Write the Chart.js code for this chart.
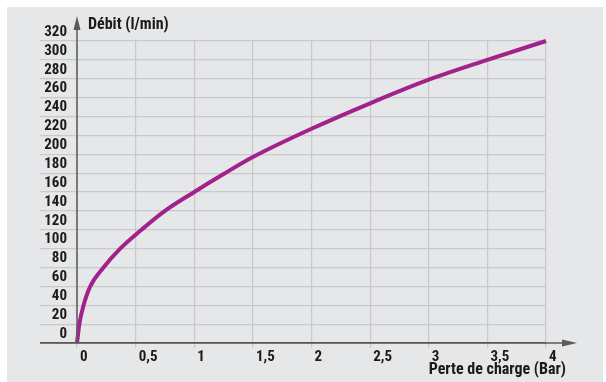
<!DOCTYPE html>
<html>
<head>
<meta charset="utf-8">
<script src="https://cdn.jsdelivr.net/npm/chart.js@4.4.1/dist/chart.umd.min.js"></script>
<style>
  body { margin: 0; background: #ffffff; }
  canvas { display: block; }
</style>
</head>
<body>
<canvas id="debitChart" width="606" height="382"></canvas>
<script>
const ctx = document.getElementById('debitChart').getContext('2d');

// Valeurs
const perteCharge = [0, 0.02, 0.056, 0.113, 0.226, 0.368, 0.55, 0.75, 1, 1.25, 1.5, 2, 2.5, 3, 3.5, 4];
const debit = [0, 20, 40, 60, 80, 100, 120, 140, 160, 179, 197, 227, 254, 279, 300, 320];

const titreX = 'Perte de charge (Bar)';
const titreY = 'Débit (l/min)';

const police = "'Roboto Condensed', 'Liberation Sans Narrow', 'DejaVu Sans Condensed', Roboto, sans-serif";
const couleurTexte = '#1a1a1a';
const couleurGrille = '#c8c9cb';
const couleurAxe = '#5a5a5a';
const couleurCourbe = '#a2218b';

// Fond gris, axes avec flèches et titres
const decorPlugin = {
    id: 'decor',
    beforeDraw(chart) {
        const c = chart.ctx;
        c.save();
        c.fillStyle = '#e6e7e8';
        c.fillRect(7, 7, 596, 375);
        c.restore();
    },
    afterDatasetsDraw(chart) {
        const c = chart.ctx;
        const xs = chart.scales.x;
        const ys = chart.scales.y;
        const x0 = xs.getPixelForValue(0);
        const y0 = ys.getPixelForValue(0);
        c.save();
        c.strokeStyle = couleurAxe;
        c.fillStyle = couleurAxe;
        c.lineWidth = 1.5;
        // axe Y
        c.beginPath();
        c.moveTo(x0, y0);
        c.lineTo(x0, 26);
        c.stroke();
        c.beginPath();
        c.moveTo(x0, 16);
        c.lineTo(x0 - 3.5, 30);
        c.lineTo(x0 + 3.5, 30);
        c.closePath();
        c.fill();
        // axe X
        c.beginPath();
        c.moveTo(40, y0);
        c.lineTo(566, y0);
        c.stroke();
        c.beginPath();
        c.moveTo(577, y0);
        c.lineTo(562, y0 - 3.5);
        c.lineTo(562, y0 + 3.5);
        c.closePath();
        c.fill();
        // titres
        c.fillStyle = couleurTexte;
        c.font = 'bold 16px ' + police;
        c.textBaseline = 'middle';
        c.textAlign = 'left';
        c.fillText(titreY, 88, 25);
        c.textAlign = 'right';
        c.fillText(titreX, 566, 370);
        c.restore();
    }
};

new Chart(ctx, {
    type: 'line',
    data: {
        datasets: [{
            label: titreY,
            data: perteCharge.map((p, i) => ({ x: p, y: debit[i] })),
            borderColor: couleurCourbe,
            borderWidth: 4,
            pointRadius: 0,
            cubicInterpolationMode: 'monotone',
            fill: false,
            clip: false
        }]
    },
    options: {
        responsive: false,
        animation: false,
        layout: { padding: { left: 0, right: 60, top: 41, bottom: 0 } },
        plugins: {
            legend: { display: false },
            tooltip: { enabled: false }
        },
        scales: {
            x: {
                type: 'linear',
                min: 0,
                max: 4,
                afterFit: (scale) => { scale.height = 39; },
                border: { display: false },
                grid: { color: couleurGrille, lineWidth: 1.2, tickLength: 5 },
                ticks: {
                    stepSize: 0.5,
                    autoSkip: false,
                    maxRotation: 0,
                    align: 'start',
                    labelOffset: 3,
                    padding: 0,
                    color: couleurTexte,
                    font: { family: police, size: 15, weight: 'bold' },
                    callback: (v) => String(v).replace('.', ',')
                }
            },
            y: {
                min: 0,
                max: 320,
                afterFit: (scale) => { scale.width = 77; },
                border: { display: false },
                grid: {
                    color: (c) => (c.tick && c.tick.value === 0 ? couleurAxe : couleurGrille),
                    lineWidth: 1.2,
                    tickLength: 37
                },
                ticks: {
                    stepSize: 20,
                    autoSkip: false,
                    padding: -27,
                    labelOffset: -9,
                    color: couleurTexte,
                    font: { family: police, size: 15, weight: 'bold' }
                }
            }
        }
    },
    plugins: [decorPlugin]
});
</script>
</body>
</html>
